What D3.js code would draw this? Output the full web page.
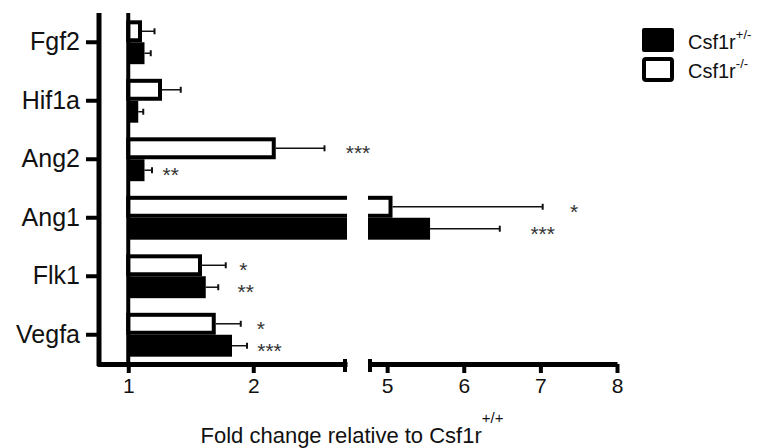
<!DOCTYPE html>
<html><head><meta charset="utf-8">
<script src="https://cdn.jsdelivr.net/npm/d3@7"></script>
<style>body{margin:0;background:#fff;} svg{display:block;font-family:"Liberation Sans",Arial,sans-serif;}</style>
</head><body><svg id="c" width="759" height="448"></svg>
<script>
// ---- data ----
const genes = ["Fgf2","Hif1a","Ang2","Ang1","Flk1","Vegfa"];
const seriesKeys = ["het","ko"];
const seriesBase = ["Csf1r","Csf1r"];
const seriesSup = ["+/-","-/-"];
const hetMean = [1.13,1.08,1.13,5.56,1.62,1.83];
const hetSem  = [0.05,0.04,0.06,0.91,0.10,0.12];
const koMean  = [1.11,1.27,2.18,5.07,1.59,1.70];
const koSem   = [0.10,0.15,0.39,1.96,0.19,0.20];
const hetSig  = ["","","**","***","**","***"];
const koSig   = ["","","***","*","*","*"];
const hetSigAt = [null,null,1.34,7.03,1.94,2.13];
const koSigAt  = [null,null,3.80,7.44,1.92,2.06];
const xTicksLow = [1,2];
const xTicksHigh = [5,6,7,8];
const xBreak = [0.75,2.75,4.75,8];
const baseValue = 1;
const xTitle = "Fold change relative to Csf1r";
const xTitleSup = "+/+";

// ---- layout ----
const svg = d3.select("#c");
const ink = "#111";
const plotTop = 13, plotBottom = 364;
const x = d3.scaleLinear().domain(xBreak).range([97,347,368,617]);
const xLow = d3.scaleLinear().domain([xBreak[0],xBreak[1]]).range([97,347]);
const xHigh = d3.scaleLinear().domain([xBreak[2],xBreak[3]]).range([368,617]);
const y = d3.scaleBand().domain(genes).range([plotTop,plotBottom]).paddingInner(0.25).paddingOuter(0.125);
const sub = d3.scaleBand().domain(["ko","het"]).range([0,y.bandwidth()]);

const defs = svg.append("defs");
defs.append("clipPath").attr("id","seg1").append("rect").attr("x",0).attr("y",0).attr("width",347).attr("height",448);
defs.append("clipPath").attr("id","seg2").append("rect").attr("x",368).attr("y",0).attr("width",391).attr("height",448);

const rows = genes.map((g,i)=>[
  {g, key:"ko", v:koMean[i], e:koSem[i], sig:koSig[i], at:koSigAt[i]},
  {g, key:"het", v:hetMean[i], e:hetSem[i], sig:hetSig[i], at:hetSigAt[i]}
]).flat();

["seg1","seg2"].forEach(id=>{
  const g = svg.append("g").attr("clip-path",`url(#${id})`);
  rows.forEach(d=>{
    const cy = y(d.g)+sub(d.key)+sub.bandwidth()/2;
    g.append("line").attr("x1",x(d.v)).attr("x2",x(d.v+d.e)).attr("y1",cy).attr("y2",cy)
      .attr("stroke",ink).attr("stroke-width",1.5);
    g.append("line").attr("x1",x(d.v+d.e)).attr("x2",x(d.v+d.e)).attr("y1",cy-3).attr("y2",cy+3)
      .attr("stroke",ink).attr("stroke-width",2);
  });
  rows.forEach(d=>{
    const y0 = y(d.g)+sub(d.key), h = sub.bandwidth();
    if(d.key==="het"){
      g.append("rect").attr("x",x(baseValue)).attr("y",y0).attr("width",x(d.v)-x(baseValue)).attr("height",h).attr("fill","#000");
    } else {
      g.append("rect").attr("x",x(baseValue)).attr("y",y0+2).attr("width",x(d.v)-x(baseValue)-2).attr("height",h-4)
        .attr("fill","#fff").attr("stroke","#000").attr("stroke-width",4);
    }
  });
});

// significance stars
rows.filter(d=>d.sig).forEach(d=>{
  const cy = y(d.g)+sub(d.key)+sub.bandwidth()/2;
  svg.append("text").attr("x",x(d.at)).attr("y",cy+12).attr("text-anchor","middle")
    .attr("font-size",21).attr("fill","#333").text(d.sig);
});

// baseline line at 1
svg.append("line").attr("x1",x(baseValue)).attr("x2",x(baseValue)).attr("y1",plotTop).attr("y2",plotBottom)
  .attr("stroke","#000").attr("stroke-width",4);

// left axis
const ya = svg.append("g").attr("transform","translate(99,0)")
  .call(d3.axisLeft(y).tickSize(13).tickSizeOuter(0).tickPadding(6));
ya.select(".domain").attr("stroke","#000").attr("stroke-width",5).attr("d",`M0,${plotTop}V${plotBottom+2}`);
ya.selectAll(".tick line").attr("stroke","#000").attr("stroke-width",4);
ya.selectAll(".tick text").attr("font-size",25).attr("fill",ink).attr("font-family","Liberation Sans, Arial, sans-serif");

// bottom axis segments
function styleX(sel){
  sel.select(".domain").attr("stroke","#000").attr("stroke-width",5);
  sel.selectAll(".tick line").attr("stroke","#000").attr("stroke-width",4);
  sel.selectAll(".tick text").attr("font-size",21).attr("fill",ink).attr("font-family","Liberation Sans, Arial, sans-serif");
}
const xa1 = svg.append("g").attr("transform",`translate(0,${plotBottom})`)
  .call(d3.axisBottom(xLow).tickValues(xTicksLow).tickSize(9).tickSizeOuter(0).tickPadding(5).tickFormat(d3.format("d")));
styleX(xa1);
const xa2 = svg.append("g").attr("transform",`translate(0,${plotBottom})`)
  .call(d3.axisBottom(xHigh).tickValues(xTicksHigh).tickSize(9).tickSizeOuter(0).tickPadding(5).tickFormat(d3.format("d")));
styleX(xa2);
[xBreak[1],xBreak[2]].forEach((v,i)=>{
  const cx = x(v) + (i===0?-2:2);
  svg.append("line").attr("x1",cx).attr("x2",cx).attr("y1",plotBottom-5).attr("y2",plotBottom+8)
    .attr("stroke","#000").attr("stroke-width",4);
});

// x title
const t = svg.append("text").attr("x",352).attr("y",443).attr("text-anchor","middle")
  .attr("font-size",22).attr("fill",ink);
t.append("tspan").text(xTitle);
t.append("tspan").attr("dy",-20).attr("font-size",15).text(xTitleSup);

// legend
const lg = svg.append("g");
seriesKeys.forEach((k,i)=>{
  const ly = 28 + i*29;
  if(k==="het"){
    lg.append("rect").attr("x",642).attr("y",ly).attr("width",32).attr("height",24).attr("rx",2).attr("fill","#000");
  } else {
    lg.append("rect").attr("x",644).attr("y",ly+2).attr("width",28).attr("height",21).attr("rx",2)
      .attr("fill","#fff").attr("stroke","#000").attr("stroke-width",4);
  }
  const tx = lg.append("text").attr("x",688).attr("y",ly+21).attr("font-size",20).attr("fill",ink);
  tx.append("tspan").text(seriesBase[i]);
  tx.append("tspan").attr("dy",-10).attr("font-size",13).text(seriesSup[i]);
});
</script></body></html>
